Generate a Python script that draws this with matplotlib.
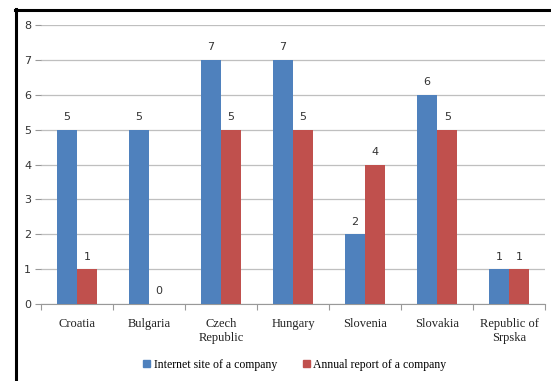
import matplotlib
matplotlib.use("Agg")
import matplotlib.pyplot as plt
import numpy as np
from matplotlib.lines import Line2D
from matplotlib.patches import Patch

categories = ["Croatia", "Bulgaria", "Czech\nRepublic", "Hungary", "Slovenia", "Slovakia", "Republic of\nSrpska"]
internet_site = [5, 5, 7, 7, 2, 6, 1]
annual_report = [1, 0, 5, 5, 4, 5, 1]
series_names = ["Internet site of a company", "Annual report of a company"]
y_ticks = [0, 1, 2, 3, 4, 5, 6, 7, 8]

blue = "#4F81BD"
red = "#C0504D"
grid_col = "#BFBFBF"

fig = plt.figure(figsize=(5.51, 3.81), dpi=100)
ax = fig.add_axes([0.0744, 0.202, 0.915, 0.732])

x = np.arange(len(categories))
w = 0.28
b1 = ax.bar(x - w / 2, internet_site, w, color=blue, zorder=3)
b2 = ax.bar(x + w / 2, annual_report, w, color=red, zorder=3)

for rect, v in zip(list(b1) + list(b2), internet_site + annual_report):
    ax.text(rect.get_x() + rect.get_width() / 2, v + 0.22, str(v),
            ha="center", va="bottom", fontsize=8, family="DejaVu Sans", color="#333333")

ax.set_xlim(-0.5, len(categories) - 0.5)
ax.set_ylim(0, 8)
ax.set_yticks(y_ticks)
ax.yaxis.grid(True, color=grid_col, linewidth=0.9, zorder=0)
ax.set_axisbelow(True)

for s in ["top", "right", "left"]:
    ax.spines[s].set_visible(False)
ax.spines["bottom"].set_color("#999999")

ax.tick_params(axis="y", length=4, color="#999999", labelsize=8, labelcolor="#333333", pad=3)
for lbl in ax.get_yticklabels():
    lbl.set_family("DejaVu Sans")

# category boundaries carry the tick marks, labels sit at the centres
ax.set_xticks(np.arange(-0.5, len(categories), 1.0))
ax.set_xticklabels([])
ax.tick_params(axis="x", which="major", length=4, color="#999999")
ax.set_xticks(x, minor=True)
ax.set_xticklabels(categories, minor=True, family="Liberation Serif", fontsize=9, color="#222222")
ax.tick_params(axis="x", which="minor", length=0, pad=10)

handles = [Patch(color=blue), Patch(color=red)]
fig.legend(handles, series_names, loc="center", bbox_to_anchor=(0.535, 0.043), ncol=2,
           frameon=False, prop={"family": "Liberation Serif", "size": 8.5},
           handlelength=0.6, handleheight=0.6, handletextpad=0.3, columnspacing=2.2)

# frame lines along the left and top edges
fig.add_artist(Line2D([16 / 551, 16 / 551], [0, 1 - 9 / 381], color="black", linewidth=2.2,
                      transform=fig.transFigure))
fig.add_artist(Line2D([15 / 551, 1], [1 - 10 / 381, 1 - 10 / 381], color="black", linewidth=2.2,
                      transform=fig.transFigure))

fig.savefig("out.png", dpi=100)
